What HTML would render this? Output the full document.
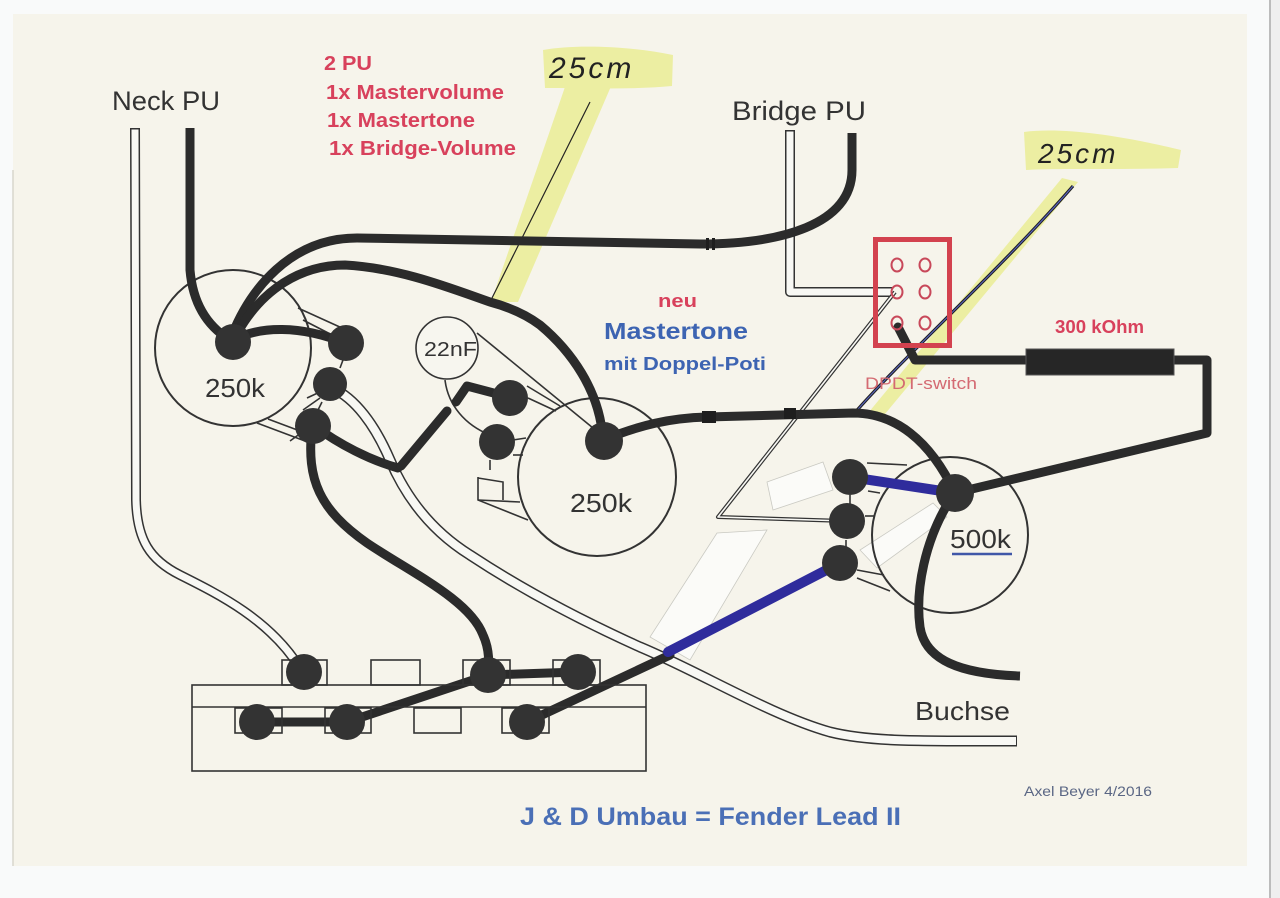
<!DOCTYPE html>
<html><head><meta charset="utf-8"><style>
html,body{margin:0;padding:0;background:#f9fafa;}
svg{display:block;}
text{font-family:"Liberation Sans",Arial,sans-serif;}
</style></head><body>
<svg width="1280" height="898" viewBox="0 0 1280 898" xmlns="http://www.w3.org/2000/svg">
<!-- background / paper -->
<rect x="0" y="0" width="1280" height="898" fill="#f9fafa"/>
<rect x="13" y="14" width="1234" height="852" fill="#f6f4eb"/>
<line x1="13" y1="170" x2="13" y2="866" stroke="#d8d6cc" stroke-width="1.5"/>
<line x1="1270" y1="0" x2="1270" y2="898" stroke="#a8a8a8" stroke-width="1.5"/>
<rect x="1271" y="0" width="9" height="898" fill="#efefef"/>

<!-- yellow highlights -->
<g fill="#eceea2">
<path d="M543,50 C575,44 630,46 673,55 L672,86 C630,90 580,88 545,88 Z"/>
<path d="M566,84 L612,84 L518,302 L491,302 Z"/>
<path d="M1024,132 C1070,126 1140,140 1181,150 L1178,168 C1120,170 1060,168 1026,170 Z"/>
<path d="M1062,178 L1078,182 L880,420 L864,418 Z"/>
</g>

<!-- handwritten 25cm -->
<text x="549" y="78" font-size="30" fill="#222" font-style="italic" letter-spacing="3">25cm</text>
<text x="1038" y="163" font-size="28" fill="#222" font-style="italic" letter-spacing="3">25cm</text>

<!-- white tape patches -->
<g fill="#fbfbf8" stroke="#c9c9c2" stroke-width="0.8">
<path d="M717,533 L767,530 L690,660 L650,637 Z"/>
<path d="M767,482 L823,462 L833,490 L773,510 Z"/>
<path d="M860,550 L933,503 L947,517 L877,568 Z"/>
</g>

<!-- pot circles -->
<g fill="none" stroke="#333" stroke-width="2">
<circle cx="233" cy="348" r="78"/>
<circle cx="597" cy="477" r="79"/>
<circle cx="950" cy="535" r="78"/>
<circle cx="447" cy="348" r="31" fill="#f7f6ef" stroke-width="1.6"/>
</g>

<!-- thin lug tab lines -->
<g fill="none" stroke="#333" stroke-width="1.6">
<path d="M298,308 L342,328"/>
<path d="M303,320 L338,338"/>
<path d="M307,398 L322,391"/>
<path d="M303,410 L320,398"/>
<path d="M290,441 L305,430"/>
<path d="M257,423 L305,441"/>
<path d="M268,419 L300,431"/>
<path d="M343,360 L340,368"/>
<path d="M322,402 L318,410"/>
<path d="M527,386 L560,406"/>
<path d="M528,398 L556,411"/>
<path d="M513,440 L526,438"/>
<path d="M513,455 L523,455"/>
<path d="M478,477 L478,500 L528,520"/>
<path d="M478,478 L503,482 L503,500"/>
<path d="M478,500 L520,502"/>
<path d="M490,460 L490,470"/>
<path d="M477,333 L593,428"/>
<path d="M445,380 C448,405 465,425 490,435"/>
<path d="M867,463 L907,465"/>
<path d="M868,491 L880,493"/>
<path d="M865,516 L874,516"/>
<path d="M857,578 L890,591"/>
<path d="M857,570 L884,575"/>
<path d="M850,495 L850,505"/>
<path d="M846,540 L846,548"/>
</g>

<!-- double (white) wires -->
<g fill="none" stroke-linejoin="round">
<path d="M135,128 L136,500 C137,540 150,560 180,575 C220,595 270,620 300,668" stroke="#333" stroke-width="10"/>
<path d="M135,129.5 L136,500 C137,540 150,560 180,575 C220,595 270,620 300,668" stroke="#f8f8f4" stroke-width="7"/>
<path d="M790,130 L790,292 L893,292" stroke="#333" stroke-width="10"/>
<path d="M790,131.5 L790,292 L893,292" stroke="#f8f8f4" stroke-width="7"/>
<path d="M332,388 C355,398 375,425 390,460 C405,495 430,530 470,555 C520,588 580,620 640,647 C700,672 770,715 830,732 C870,742 920,741 1017,741" stroke="#333" stroke-width="11"/>
<path d="M332,388 C355,398 375,425 390,460 C405,495 430,530 470,555 C520,588 580,620 640,647 C700,672 770,715 830,732 C870,742 920,741 1016,741" stroke="#f8f8f4" stroke-width="8"/>
<path d="M895,292 L718,517 L845,521" stroke="#333" stroke-width="4"/>
<path d="M895,292 L718,517 L845,521" stroke="#f8f8f4" stroke-width="1.6"/>
<path d="M1073,186 C1000,270 900,360 852,416" stroke="#222" stroke-width="3.2"/>
<path d="M1073,186 C1000,270 900,360 852,416" stroke="#5a66c8" stroke-width="1"/>
<path d="M590,102 L492,298" stroke="#222" stroke-width="1.2"/>
</g>

<!-- thick black wires -->
<g fill="none" stroke="#2b2b2b" stroke-width="9" stroke-linecap="round" stroke-linejoin="round">
<path d="M190,128 L190,270 Q194,318 230,340" stroke-linecap="butt"/>
<path d="M232,335 C250,290 290,238 357,238 L700,244 C780,244 852,225 852,170 L852,133" stroke-linecap="butt"/>
<path d="M238,332 C262,290 300,265 345,265 C400,268 450,288 490,302 Q520,310 540,325 C570,350 600,390 603,440"/>
<path d="M233,340 C260,326 300,325 345,343"/>
<path d="M313,425 C340,445 370,460 398,468"/>
<path d="M401,466 L447,411"/>
<path d="M456,402 L467,386 L505,396"/>
<path d="M312,428 C306,480 320,510 367,543 C410,572 470,600 483,635 C490,650 489,665 488,675"/>
<path d="M603,440 C640,425 670,418 707,417 L853,413 C895,413 930,440 955,493"/>
<path d="M950,500 C925,540 915,590 920,627 C925,660 960,674 1020,676" stroke-linecap="butt"/>
<path d="M955,493 L1207,433 L1207,360 L1173,360" stroke-linecap="butt"/>
<path d="M1026,360 L915,360 L898,327"/>
<path d="M257,722 L347,722"/>
<path d="M347,722 L488,675"/>
<path d="M488,675 L578,672"/>
<path d="M527,722 L670,655"/>
</g>
<!-- small wire marks -->
<g fill="#1e1e1e">
<rect x="706" y="238" width="3" height="12"/>
<rect x="712" y="238" width="3" height="12"/>
<rect x="702" y="411" width="14" height="12"/>
<rect x="784" y="408" width="12" height="11"/>
</g>

<!-- blue wires -->
<g fill="none" stroke="#2f2c9c" stroke-width="10" stroke-linecap="round">
<path d="M668,652 L840,563"/>
<path d="M850,477 L955,493"/>
</g>

<!-- selector switch -->
<g fill="none" stroke="#333" stroke-width="1.6">
<rect x="192" y="685" width="454" height="86"/>
<line x1="192" y1="707" x2="646" y2="707"/>
<rect x="282" y="660" width="45" height="25"/>
<rect x="371" y="660" width="49" height="25"/>
<rect x="463" y="660" width="47" height="25"/>
<rect x="553" y="660" width="47" height="25"/>
<rect x="235" y="708" width="47" height="25"/>
<rect x="325" y="708" width="46" height="25"/>
<rect x="414" y="708" width="47" height="25"/>
<rect x="502" y="708" width="47" height="25"/>
</g>

<!-- solder dots -->
<g fill="#333">
<circle cx="233" cy="342" r="18"/>
<circle cx="346" cy="343" r="18"/>
<circle cx="330" cy="384" r="17"/>
<circle cx="313" cy="426" r="18"/>
<circle cx="510" cy="398" r="18"/>
<circle cx="497" cy="442" r="18"/>
<circle cx="604" cy="441" r="19"/>
<circle cx="850" cy="477" r="18"/>
<circle cx="847" cy="521" r="18"/>
<circle cx="840" cy="563" r="18"/>
<circle cx="955" cy="493" r="19"/>
<circle cx="304" cy="672" r="18"/>
<circle cx="488" cy="675" r="18"/>
<circle cx="578" cy="672" r="18"/>
<circle cx="257" cy="722" r="18"/>
<circle cx="347" cy="722" r="18"/>
<circle cx="527" cy="722" r="18"/>
</g>

<!-- DPDT switch -->
<rect x="875.5" y="239.5" width="74" height="106" fill="none" stroke="#d3424f" stroke-width="5"/>
<g fill="none" stroke="#c8485a" stroke-width="2">
<ellipse cx="897" cy="265" rx="5.5" ry="6.5"/>
<ellipse cx="925" cy="265" rx="5.5" ry="6.5"/>
<ellipse cx="897" cy="292" rx="5.5" ry="6.5"/>
<ellipse cx="925" cy="292" rx="5.5" ry="6.5"/>
<ellipse cx="897" cy="323" rx="5.5" ry="6.5"/>
<ellipse cx="925" cy="323" rx="5.5" ry="6.5"/>
</g>

<!-- resistor -->
<rect x="1026" y="349" width="148" height="26" fill="#262626" stroke="#555" stroke-width="1"/>

<!-- 500k underline -->
<line x1="952" y1="554" x2="1012" y2="554" stroke="#4057a8" stroke-width="2.5"/>

<!-- texts -->
<g fill="#333">
<text x="112" y="110" font-size="27" textLength="108" lengthAdjust="spacingAndGlyphs">Neck PU</text>
<text x="732" y="120" font-size="27" textLength="134" lengthAdjust="spacingAndGlyphs">Bridge PU</text>
<text x="205" y="397" font-size="26" textLength="60" lengthAdjust="spacingAndGlyphs">250k</text>
<text x="570" y="512" font-size="26" textLength="62" lengthAdjust="spacingAndGlyphs">250k</text>
<text x="950" y="548" font-size="26" textLength="61" lengthAdjust="spacingAndGlyphs">500k</text>
<text x="424" y="356" font-size="20" textLength="53" lengthAdjust="spacingAndGlyphs">22nF</text>
<text x="915" y="720" font-size="26" textLength="95" lengthAdjust="spacingAndGlyphs">Buchse</text>
</g>
<g fill="#d8415c" font-weight="bold">
<text x="324" y="70" font-size="20" textLength="48" lengthAdjust="spacingAndGlyphs">2 PU</text>
<text x="326" y="99" font-size="20" textLength="178" lengthAdjust="spacingAndGlyphs">1x Mastervolume</text>
<text x="327" y="127" font-size="20" textLength="148" lengthAdjust="spacingAndGlyphs">1x Mastertone</text>
<text x="329" y="155" font-size="20" textLength="187" lengthAdjust="spacingAndGlyphs">1x Bridge-Volume</text>
<text x="658" y="307" font-size="18" textLength="39" lengthAdjust="spacingAndGlyphs">neu</text>
<text x="1055" y="333" font-size="18" textLength="89" lengthAdjust="spacingAndGlyphs">300 kOhm</text>
</g>
<text x="865" y="389" font-size="17" fill="#d46a72" textLength="112" lengthAdjust="spacingAndGlyphs">DPDT-switch</text>
<g fill="#3d64b2" font-weight="bold">
<text x="604" y="339" font-size="23" textLength="144" lengthAdjust="spacingAndGlyphs">Mastertone</text>
<text x="604" y="370" font-size="18" textLength="162" lengthAdjust="spacingAndGlyphs">mit Doppel-Poti</text>
<text x="520" y="825" font-size="25" fill="#4a6fb6" textLength="381" lengthAdjust="spacingAndGlyphs">J &amp; D Umbau = Fender Lead II</text>
</g>
<text x="1024" y="796" font-size="14" fill="#5a6684" textLength="128" lengthAdjust="spacingAndGlyphs">Axel Beyer 4/2016</text>
</svg>
</body></html>
